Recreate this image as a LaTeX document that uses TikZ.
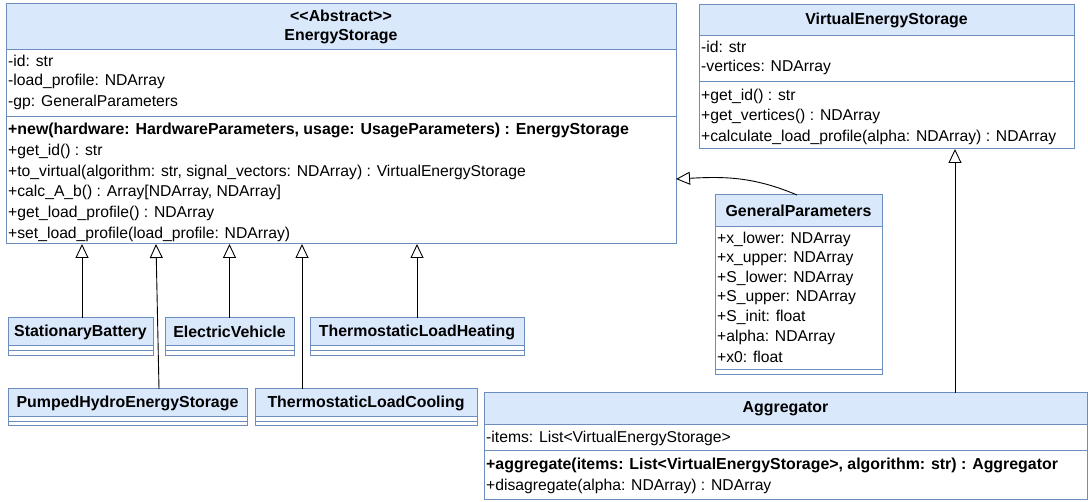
\documentclass[tikz,border=0pt]{standalone}
\usepackage{fontspec}
\setmainfont{Liberation Sans}
\usetikzlibrary{arrows.meta,calc}
\definecolor{hdfill}{HTML}{DAE8FC}
\definecolor{hdline}{HTML}{6C8EBF}
\begin{document}
\begin{tikzpicture}[x=1pt,y=-1pt,
  hd/.style={draw=hdline,fill=hdfill,line width=1pt,anchor=north west,inner sep=0pt,outer sep=0pt},
  bd/.style={draw=hdline,fill=white,line width=1pt,anchor=north west,inner sep=0pt,outer sep=0pt},
  sepl/.style={draw=hdline,line width=1pt},
  htxt/.style={font=\fontsize{15.9}{18.5}\selectfont\bfseries,inner sep=0pt,align=center},
  mtxt/.style={font=\fontsize{15.7}{18}\selectfont,anchor=west,inner sep=0pt},
  btxt/.style={font=\fontsize{15.9}{18}\selectfont\bfseries,anchor=west,inner sep=0pt},
  inh/.style={draw=black,line width=0.9pt,-{Triangle[open,length=14pt,width=13pt]}}]
\useasboundingbox (0,0) rectangle (1088,502);

% EnergyStorage
\node[hd,minimum width=670pt,minimum height=46pt] (esH) at (6,4) {};
\node[bd,minimum width=670pt,minimum height=194pt] (es) at (6,50) {};
\draw[sepl] (6,116.4) -- (676,116.4);
\node[htxt] at (esH.center) {{<}{<}Abstract{>}{>}\\EnergyStorage};
\node[mtxt] at (8,60.4) {-id: str};
\node[mtxt] at (8,81.2) {-load\_profile: NDArray};
\node[mtxt] at (8,102) {-gp: GeneralParameters};
\node[btxt] at (8,130.4) {+new(hardware: HardwareParameters, usage: UsageParameters) : EnergyStorage};
\node[mtxt] at (8,151.2) {+get\_id() : str};
\node[mtxt] at (8,172) {+to\_virtual(algorithm: str, signal\_vectors: NDArray) : VirtualEnergyStorage};
\node[mtxt] at (8,192.8) {+calc\_A\_b() : Array[NDArray, NDArray]};
\node[mtxt] at (8,213.6) {+get\_load\_profile() : NDArray};
\node[mtxt] at (8,234.4) {+set\_load\_profile(load\_profile: NDArray)};

% VirtualEnergyStorage
\node[hd,minimum width=375pt,minimum height=31pt] (vesH) at (699,5) {};
\node[bd,minimum width=375pt,minimum height=113pt] (ves) at (699,36) {};
\draw[sepl] (699,81.6) -- (1074,81.6);
\node[htxt] at (vesH.center) {VirtualEnergyStorage};
\node[mtxt] at (701,46.4) {-id: str};
\node[mtxt] at (701,67.2) {-vertices: NDArray};
\node[mtxt] at (701,96) {+get\_id() : str};
\node[mtxt] at (701,116.8) {+get\_vertices() : NDArray};
\node[mtxt] at (701,137.6) {+calculate\_load\_profile(alpha: NDArray) : NDArray};

% GeneralParameters
\node[hd,minimum width=167pt,minimum height=32pt] (gpH) at (715,195) {};
\node[bd,minimum width=167pt,minimum height=148pt] (gp) at (715,227) {};
\draw[sepl] (715,370) -- (882,370);
\node[htxt] at (gpH.center) {GeneralParameters};
\node[mtxt] at (717,239.3) {+x\_lower: NDArray};
\node[mtxt] at (717,258.9) {+x\_upper: NDArray};
\node[mtxt] at (717,278.5) {+S\_lower: NDArray};
\node[mtxt] at (717,298.1) {+S\_upper: NDArray};
\node[mtxt] at (717,317.7) {+S\_init: float};
\node[mtxt] at (717,337.3) {+alpha: NDArray};
\node[mtxt] at (717,356.9) {+x0: float};

% small subclasses
\node[hd,minimum width=145pt,minimum height=28pt] (sb) at (8,318) {};
\node[bd,minimum width=145pt,minimum height=10pt] (sbB) at (8,346) {};
\draw[sepl] (8,351) -- (153,351);
\node[htxt] at (sb.center) {StationaryBattery};

\node[hd,minimum width=129pt,minimum height=28pt] (ev) at (165,318) {};
\node[bd,minimum width=129pt,minimum height=10pt] (evB) at (165,346) {};
\draw[sepl] (165,351) -- (294,351);
\node[htxt] at (ev.center) {ElectricVehicle};

\node[hd,minimum width=214pt,minimum height=28pt] (tlh) at (310,318) {};
\node[bd,minimum width=214pt,minimum height=10pt] (tlhB) at (310,346) {};
\draw[sepl] (310,351) -- (524,351);
\node[htxt] at (tlh.center) {ThermostaticLoadHeating};

\node[hd,minimum width=239pt,minimum height=28pt] (ph) at (8,389) {};
\node[bd,minimum width=239pt,minimum height=9pt] (phB) at (8,417) {};
\draw[sepl] (8,421.5) -- (247,421.5);
\node[htxt] at (ph.center) {PumpedHydroEnergyStorage};

\node[hd,minimum width=222pt,minimum height=28pt] (tlc) at (255,389) {};
\node[bd,minimum width=222pt,minimum height=9pt] (tlcB) at (255,417) {};
\draw[sepl] (255,421.5) -- (477,421.5);
\node[htxt] at (tlc.center) {ThermostaticLoadCooling};

% Aggregator
\node[hd,minimum width=603pt,minimum height=32pt] (ag) at (484,393) {};
\node[bd,minimum width=603pt,minimum height=75pt] (agB) at (484,425) {};
\draw[sepl] (484,451) -- (1087,451);
\node[htxt] at (ag.center) {Aggregator};
\node[mtxt] at (486,438) {-items: List<VirtualEnergyStorage>};
\node[btxt] at (486,465.4) {+aggregate(items: List<VirtualEnergyStorage>, algorithm: str) : Aggregator};
\node[mtxt] at (486,486.2) {+disagregate(alpha: NDArray) : NDArray};

% inheritance connectors
\draw[inh] ($(sb.north)+(1.5,0)$) coordinate (sbT) -- (sbT |- es.south);
\draw[inh] ($(ph.north west)+(151,0)$) -- ($(es.south west)+(150,0)$);
\draw[inh] (ev.north) -- (ev.north |- es.south);
\draw[inh] ($(tlc.north west)+(47,0)$) coordinate (tlcT) -- (tlcT |- es.south);
\draw[inh] (tlh.north) -- (tlh.north |- es.south);
\draw[inh] ($(ag.north west)+(471,0)$) coordinate (agT) -- (agT |- ves.south);
\draw[inh] ($(gpH.north west)+(82,0)$) to[out=157,in=3] ($(es.north east)+(0,129)$);
\end{tikzpicture}
\end{document}
